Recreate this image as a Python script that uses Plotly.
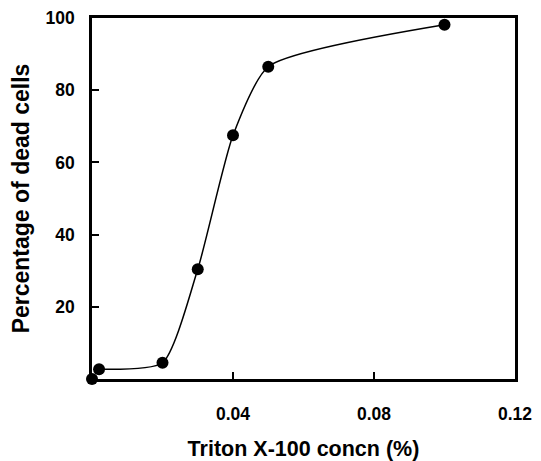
import plotly.graph_objects as go

conc = [0.0, 0.002, 0.020, 0.030, 0.040, 0.050, 0.100]
dead = [0.0, 2.7, 4.5, 30.4, 67.5, 86.5, 98.1]
x_ticks = [0.04, 0.08, 0.12]
x_tick_text = ["0.04", "0.08", "0.12"]
y_ticks = [20, 40, 60, 80, 100]

fig = go.Figure()
fig.add_trace(go.Scatter(x=conc[1:], y=dead[1:], mode="lines",
                         line=dict(color="black", width=1.5, shape="spline", smoothing=0.6),
                         hoverinfo="skip", cliponaxis=False))
fig.add_trace(go.Scatter(x=conc, y=dead, mode="markers",
                         marker=dict(color="black", size=12),
                         cliponaxis=False))

ff = "Liberation Sans, Arial, sans-serif"
fig.update_layout(
    width=533, height=453,
    margin=dict(l=84, r=26, t=10, b=82),
    paper_bgcolor="white", plot_bgcolor="white",
    showlegend=False,
    font=dict(family=ff, color="black"),
)
fig.update_xaxes(range=[0, 0.12], tickvals=x_ticks,
                 ticktext=["<b>%s</b>" % t for t in x_tick_text],
                 ticks="inside", ticklen=7, tickwidth=2, tickcolor="black",
                 showline=True, linecolor="black", linewidth=2.5, mirror=True,
                 showgrid=False, zeroline=False, ticklabelstandoff=17, automargin=False,
                 tickfont=dict(size=17.5, family=ff, color="black", weight="bold"),
                 title=dict(text="<b>Triton X-100 concn (%)</b>", font=dict(size=21.5), standoff=24))
fig.update_yaxes(range=[0, 100], tickvals=y_ticks,
                 ticktext=["<b>%d</b>" % v for v in y_ticks],
                 ticks="inside", ticklen=7, tickwidth=2, tickcolor="black",
                 showline=True, linecolor="black", linewidth=2.5, mirror=True,
                 showgrid=False, zeroline=False, ticklabelstandoff=11, automargin=False,
                 tickfont=dict(size=17.5, family=ff, color="black", weight="bold"),
                 title=dict(text="<b>Percentage of dead cells</b>", font=dict(size=23), standoff=12))

fig.write_html("out.html")
